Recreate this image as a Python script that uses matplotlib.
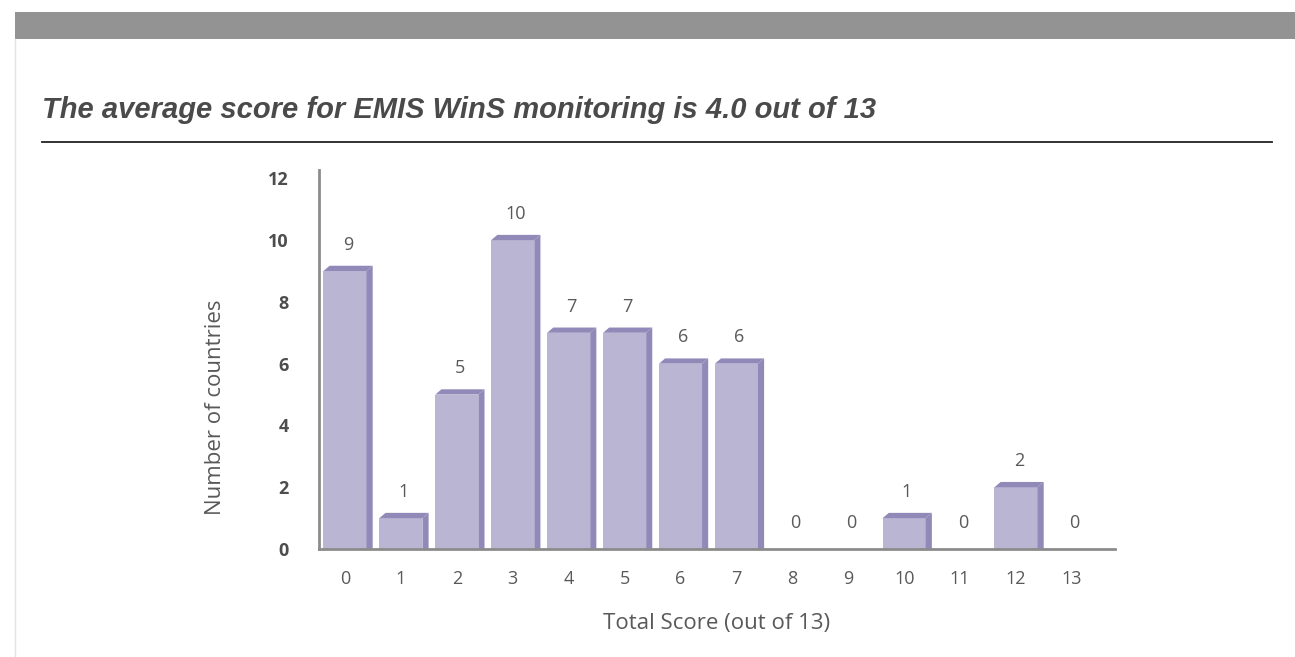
import numpy as np
import matplotlib
matplotlib.use("Agg")
import matplotlib.pyplot as plt
from matplotlib.patches import Rectangle, Polygon
from matplotlib.lines import Line2D

# data
scores = list(range(14))
countries = [9, 1, 5, 10, 7, 7, 6, 6, 0, 0, 1, 0, 2, 0]
yticks = [0, 2, 4, 6, 8, 10, 12]
title = "The average score for EMIS WinS monitoring is 4.0 out of 13"

W, H = 1295, 657
fig = plt.figure(figsize=(W / 100, H / 100), dpi=100)

# page decoration: grey banner + faint left border
fig.add_artist(Rectangle((15 / W, 1 - 39 / H), 1 - 15 / W, 27 / H,
                         transform=fig.transFigure, color="#939393", lw=0))
fig.add_artist(Line2D([15 / W, 15 / W], [0, 1 - 39 / H], transform=fig.transFigure,
                      color="#e3e3e3", lw=1))

# title + rule
fig.text(42 / W, 1 - 110 / H, title, fontsize=21, fontweight="bold", style="italic",
         family="Liberation Sans", color="#4a4a4a", va="center", ha="left")
fig.add_artist(Line2D([42 / W, 1272 / W], [1 - 142 / H, 1 - 142 / H],
                      transform=fig.transFigure, color="#222222", lw=1.3))

ax = fig.add_axes([319 / W, 1 - 549 / H, (1115 - 319) / W, (549 - 170) / H])

front = "#b9b5d3"
dark = "#9189b8"
bw = 0.77
depth = 0.11   # side depth in x units
lift = 0.17    # top bevel in y units

ax.bar(scores, countries, width=bw, color=front, zorder=2)
for x, v in zip(scores, countries):
    x0, x1 = x - bw / 2, x + bw / 2
    if v > 0:
        ax.add_patch(Polygon([(x0, v), (x0 + depth, v + lift), (x1 + depth, v + lift), (x1, v)],
                             closed=True, color=dark, lw=0, zorder=2))
        ax.add_patch(Polygon([(x1, v), (x1 + depth, v + lift), (x1 + depth, 0), (x1, 0)],
                             closed=True, color=dark, lw=0, zorder=2))
    ax.text(x + 0.05, v + 0.85, str(v), ha="center", va="center", fontsize=13,
            family="Open Sans", color="#595959")

ax.set_xlim(-0.465, 13.77)
ax.set_ylim(0, 12.27)
ax.set_xticks(scores)
ax.set_xticklabels([str(s) for s in scores], fontsize=13, family="Open Sans", color="#595959")
ax.set_yticks(yticks)
ax.set_yticklabels([str(t) for t in yticks], fontsize=13, fontweight="bold",
                   family="Open Sans", color="#4d4d4d")
ax.tick_params(axis="x", length=0, pad=15)
ax.tick_params(axis="y", length=0, pad=22)

for s in ["top", "right"]:
    ax.spines[s].set_visible(False)
for s in ["left", "bottom"]:
    ax.spines[s].set_color("#8c8c8c")
    ax.spines[s].set_linewidth(2)

ax.set_xlabel("Total Score (out of 13)", fontsize=16, family="Open Sans", color="#595959",
              labelpad=18)
ax.set_ylabel("Number of countries", fontsize=16, family="Open Sans", color="#595959")
ax.yaxis.set_label_coords(-0.117, 0.375)

fig.savefig("out.png", dpi=100)
